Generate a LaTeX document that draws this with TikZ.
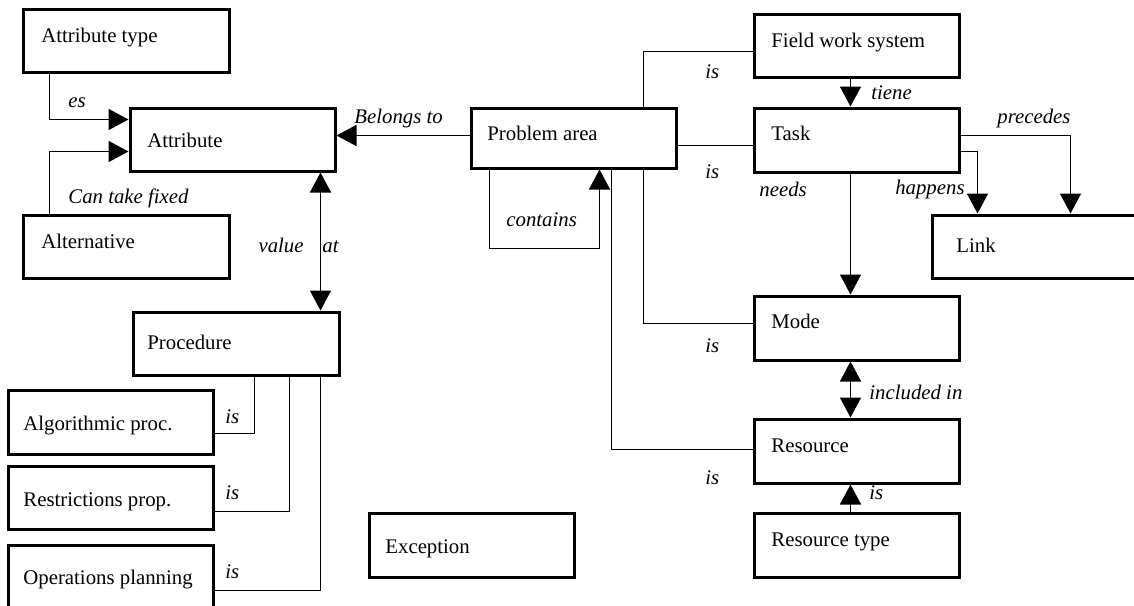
\documentclass[tikz,border=0pt]{standalone}
\usepackage{fontspec}
\setmainfont{Liberation Serif}
\usetikzlibrary{arrows.meta,calc,fit}
\tikzset{
 box/.style={draw, line width=1.5pt, inner sep=0pt},
 txt/.style={anchor=base west, inner sep=0pt, font=\fontsize{10.4}{12}\selectfont},
 lbl/.style={anchor=base west, inner sep=0pt, font=\fontsize{10.4}{12}\selectfont\itshape},
 lble/.style={lbl, anchor=base east},
 conn/.style={line width=0.8pt},
 tip/.style={-{Triangle[length=10pt,width=10.5pt]}},
 tips/.style={{Triangle[length=10pt,width=10.5pt]}-{Triangle[length=10pt,width=10.5pt]}},
}
\begin{document}
\begin{tikzpicture}[x=0.5pt,y=-0.5pt]
\useasboundingbox (0,0) rectangle (1134,605);
\clip (0,0) rectangle (1134,605);
% boxes
\node[box, fit={(23,9)(229,72)}] (attype) {};
\node[box, fit={(130,108)(335,171)}] (attr) {};
\node[box, fit={(23,215)(229,278)}] (alt) {};
\node[box, fit={(133,312)(339,375)}] (proc) {};
\node[box, fit={(8,390)(213,454)}] (algo) {};
\node[box, fit={(8,466)(213,529)}] (restr) {};
\node[box, fit={(8,545)(213,612)}] (ops) {};
\node[box, fit={(369,513)(574,577)}] (exc) {};
\node[box, fit={(471,108)(676,168)}] (prob) {};
\node[box, fit={(754,14)(959,77)}] (fws) {};
\node[box, fit={(754,108)(959,172)}] (task) {};
\node[box, fit={(932,215)(1140,278)}] (link) {};
\node[box, fit={(754,296)(959,360)}] (mode) {};
\node[box, fit={(754,419)(959,483)}] (res) {};
\node[box, fit={(754,513)(959,577)}] (rtype) {};
% box texts
\node[txt] (attypeT) at (41,42) {Attribute type};
\node[txt] (attrT) at (147,147) {Attribute};
\node[txt] (altT) at (41,248) {Alternative};
\node[txt] (procT) at (147,349) {Procedure};
\node[txt] (algoT) at (23,430) {Algorithmic proc.};
\node[txt] (restrT) at (23,506) {Restrictions prop.};
\node[txt] (opsT) at (23,584) {Operations planning};
\node[txt] (excT) at (385,553) {Exception};
\node[txt] (probT) at (487,140) {Problem area};
\node[txt] (fwsT) at (771,47) {Field work system};
\node[txt] (taskT) at (771,140) {Task};
\node[txt] (linkT) at (956,252) {Link};
\node[txt] (modeT) at (771,328) {Mode};
\node[txt] (resT) at (771,452) {Resource};
\node[txt] (rtypeT) at (771,546) {Resource type};
% connectors
\draw[conn,tip] ($(attype.south west)+(28,0)$) |- ($(attr.north west)+(0,13)$);
\draw[conn,tip] ($(alt.north west)+(28,0)$) |- ($(attr.north west)+(0,45)$);
\draw[conn,tip] ($(prob.north west)+(0,29)$) -- ($(attr.north east)+(0,29)$);
\draw[conn,tips] ($(attr.south east)+(-16,0)$) -- ($(proc.north east)+(-20,0)$);
\draw[conn] ($(proc.south west)+(123,0)$) |- ($(algo.north east)+(0,45)$);
\draw[conn] ($(proc.south west)+(158,0)$) |- ($(restr.north east)+(0,47)$);
\draw[conn] ($(proc.south west)+(189,0)$) |- ($(ops.north east)+(0,47)$);
\draw[conn] ($(prob.north west)+(174,0)$) |- ($(fws.north west)+(0,39)$);
\draw[conn] ($(prob.north east)+(0,39)$) -- ($(task.north west)+(0,39)$);
\draw[conn,tip] ($(fws.south west)+(98,0)$) -- ($(task.north west)+(98,0)$);
\draw[conn,tip] ($(task.south west)+(98,0)$) -- ($(mode.north west)+(98,0)$);
\draw[conn,tip] ($(task.north east)+(0,29)$) -| ($(link.north west)+(140,0)$);
\draw[conn,tip] ($(task.north east)+(0,45)$) -| ($(link.north west)+(47,0)$);
\draw[conn,tip] ($(prob.south west)+(20,0)$) -- ++(0,79) -| ($(prob.south west)+(130,0)$);
\draw[conn] ($(prob.south west)+(174,0)$) |- ($(mode.north west)+(0,29)$);
\draw[conn] ($(prob.south west)+(142,0)$) |- ($(res.north west)+(0,32)$);
\draw[conn,tips] ($(mode.south west)+(98,0)$) -- ($(res.north west)+(98,0)$);
\draw[conn,tip] ($(rtype.north west)+(98,0)$) -- ($(res.south west)+(98,0)$);
% connector labels
\node[lbl] (l1) at (68,107) {es};
\node[lbl] (l2) at (68,203) {Can take fixed};
\node[lbl] (l3) at (354,123) {Belongs to};
\node[lble] (l4) at (304,252) {value};
\node[lbl] (l5) at (322,252) {at};
\node[lbl] (l6) at (225,423) {is};
\node[lbl] (l7) at (225,499) {is};
\node[lbl] (l8) at (225,578) {is};
\node[lbl] (l9) at (705,78) {is};
\node[lbl] (l10) at (871,99) {tiene};
\node[lbl] (l11) at (997,123) {precedes};
\node[lbl] (l12) at (705,178) {is};
\node[lbl] (l13) at (759,196) {needs};
\node[lble] (l14) at (965,194) {happens};
\node[lbl] (l15) at (506,226) {contains};
\node[lbl] (l16) at (705,352) {is};
\node[lbl] (l17) at (869,399) {included in};
\node[lbl] (l18) at (705,484) {is};
\node[lbl] (l19) at (869,499) {is};
\end{tikzpicture}
\end{document}
